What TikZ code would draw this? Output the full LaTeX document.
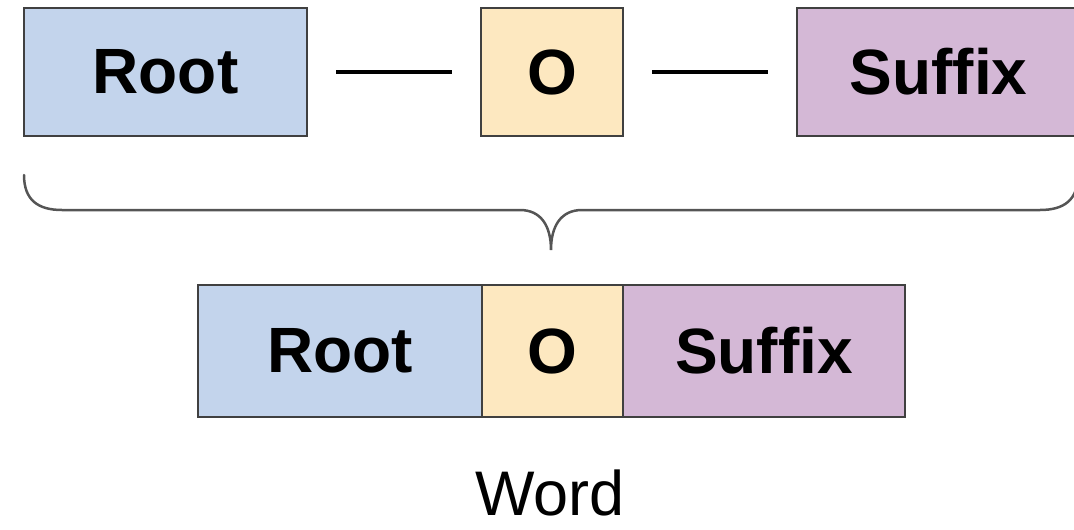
\documentclass[tikz,border=0pt]{standalone}
\usepackage{fontspec}
\setmainfont{Liberation Sans}
\definecolor{rootblue}{HTML}{C3D4EC}
\definecolor{oyellow}{HTML}{FDE8C0}
\definecolor{sufpurple}{HTML}{D4B8D6}
\definecolor{edgegray}{HTML}{404040}
\definecolor{bracegray}{HTML}{555555}
\begin{document}
\begin{tikzpicture}[x=1pt,y=-1pt,
  part/.style={draw=edgegray, line width=2.5pt, inner sep=0pt, outer sep=0pt,
    font=\fontsize{64}{72}\selectfont\bfseries, text=black},
  link/.style={line width=3.5pt, black, shorten >=29pt, shorten <=29pt},
  bracestyle/.style={draw=bracegray, line width=2.5pt, line cap=round}]
\useasboundingbox (0,0) rectangle (1074,530);
% top row
\begin{scope}
\clip (0,0) rectangle (1074,530);
\node[part, fill=rootblue, minimum width=283pt, minimum height=128pt] (r1) at (165.5,72) {Root};
\node[part, fill=oyellow, minimum width=142pt, minimum height=128pt] (o1) at (552,72) {O};
\node[part, fill=sufpurple, minimum width=283pt, minimum height=128pt] (s1) at (938.5,72) {Suffix};
\draw[link] (r1.east) -- (o1.west);
\draw[link] (o1.east) -- (s1.west);
% brace
\coordinate (bl) at (24,175);
\coordinate (bt) at (551,250);
\coordinate (br) at (1078,175);
\draw[bracestyle] (bl) .. controls (24,200) and (38,210) .. (62,210) -- (520,210)
  .. controls (541,210) and (551,226) .. (bt)
  .. controls (551,226) and (561,210) .. (582,210) -- (1040,210)
  .. controls (1064,210) and (1078,200) .. (br);
\end{scope}
% bottom row
\node[part, fill=rootblue, minimum width=284pt, minimum height=132pt] (r2) at (340,351) {Root};
\node[part, fill=oyellow, minimum width=141pt, minimum height=132pt] (o2) at (552.5,351) {O};
\node[part, fill=sufpurple, minimum width=282pt, minimum height=132pt] (s2) at (764,351) {Suffix};
\node[anchor=base, inner sep=0pt, font=\fontsize{63}{70}\selectfont] (w) at (550,515) {Word};
\end{tikzpicture}
\end{document}
